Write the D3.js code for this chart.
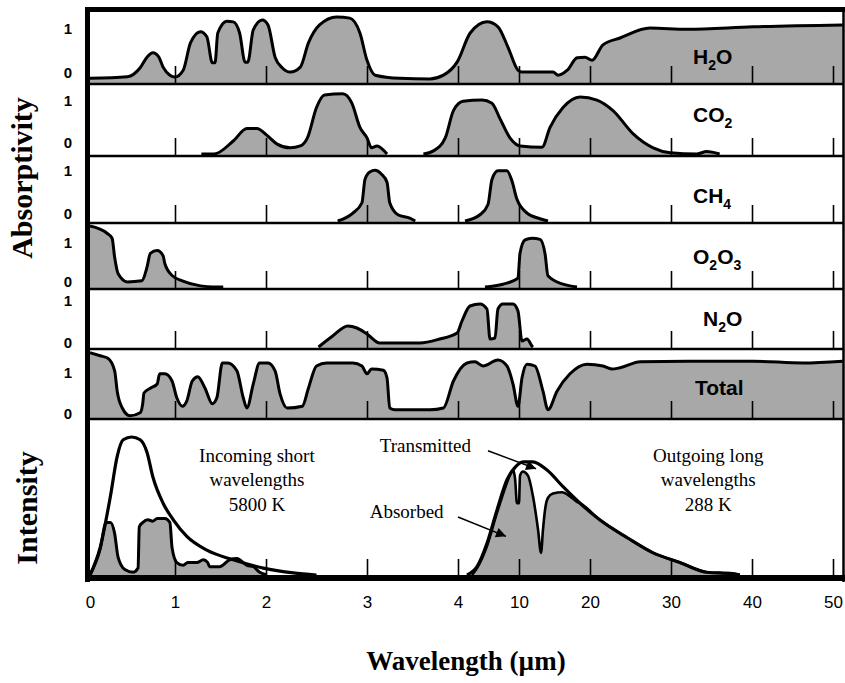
<!DOCTYPE html>
<html>
<head>
<meta charset="utf-8">
<script src="https://cdn.jsdelivr.net/npm/d3@7"></script>
<style>
  body { margin: 0; background: #fff; }
</style>
</head>
<body>
<div id="chart"></div>
<script>
// Wavelength ticks (µm) – the axis is stretched, not linear
const tickValues = [0, 1, 2, 3, 4, 10, 20, 30, 40, 50];
const tickPixels = [90, 175, 266, 367, 458, 519, 590, 671, 752, 833];

// Absorptivity curves: wavelength (µm) and absorptivity (0..1), null = gap
const h2oWave = [0, 0.44, 0.59, 0.67, 0.74, 0.81, 0.86, 0.94, 1.0, 1.09, 1.17, 1.28, 1.35, 1.41, 1.44, 1.47, 1.57, 1.64, 1.71, 1.77, 1.80, 1.86, 1.96, 2.02, 2.09, 2.16, 2.24, 2.34, 2.42, 2.53, 2.70, 2.83, 2.93, 3.0, 3.09, 3.36, 3.69, 3.84, 3.99, 5.2, 6.85, 7.93, 8.92, 9.9, 10.4, 14.8, 15.5, 16.8, 18.2, 19.3, 20.25, 21.6, 23.7, 27.4, 32, 40.1, 51.2];
const h2oAbs = [0.06, 0.085, 0.23, 0.40, 0.47, 0.40, 0.24, 0.11, 0.08, 0.19, 0.63, 0.81, 0.73, 0.31, 0.31, 0.79, 0.98, 0.97, 0.79, 0.32, 0.32, 0.84, 1.0, 0.92, 0.40, 0.23, 0.16, 0.24, 0.63, 0.92, 1.05, 1.03, 0.79, 0.35, 0.11, 0.06, 0.05, 0.11, 0.32, 0.79, 0.97, 0.89, 0.56, 0.19, 0.16, 0.16, 0.11, 0.19, 0.39, 0.40, 0.35, 0.60, 0.71, 0.87, 0.85, 0.89, 0.92];

const co2Wave = [1.29, 1.43, 1.64, 1.79, 1.90, 2.01, 2.11, 2.24, 2.34, 2.41, 2.50, 2.58, 2.76, 2.85, 2.93, 3.0, 3.05, 3.11, 3.22, 3.4, 3.62, 3.73, 3.86, 3.95, 4.49, 6.36, 7.34, 8.13, 9.11, 10.14, 13.24, 14.37, 16.2, 18.6, 20.86, 22.84, 25.3, 27.8, 29.9, 33.2, 34.4, 36.0];
const co2Abs = [0, 0, 0.21, 0.41, 0.41, 0.30, 0.16, 0.10, 0.13, 0.26, 0.75, 0.95, 0.97, 0.82, 0.43, 0.26, 0.10, 0.13, 0, null, 0, 0.05, 0.26, 0.70, 0.85, 0.87, 0.82, 0.57, 0.26, 0.13, 0.11, 0.43, 0.75, 0.92, 0.87, 0.70, 0.33, 0.10, 0.02, 0, 0.04, 0];

const ch4Wave = [2.71, 2.86, 2.95, 2.98, 3.03, 3.09, 3.16, 3.22, 3.25, 3.34, 3.47, 3.53, 4.0, 4.69, 6.16, 6.95, 7.34, 7.93, 8.82, 9.31, 9.80, 11.13, 12.96, 14.08];
const ch4Abs = [0, 0.14, 0.32, 0.73, 0.86, 0.89, 0.82, 0.68, 0.32, 0.11, 0.05, 0, null, 0, 0.11, 0.29, 0.73, 0.88, 0.88, 0.70, 0.38, 0.14, 0.04, 0];

const o3Wave = [0, 0.2, 0.26, 0.29, 0.33, 0.44, 0.61, 0.67, 0.71, 0.79, 0.86, 0.88, 0.97, 1.08, 1.28, 1.42, 1.53, 3.0, 6.65, 8.42, 9.9, 10.14, 10.85, 11.83, 12.96, 13.66, 14.08, 16.2, 18.17];
const o3Abs = [1.09, 0.96, 0.87, 0.53, 0.24, 0.09, 0.11, 0.35, 0.60, 0.65, 0.56, 0.42, 0.20, 0.11, 0.02, 0, 0, null, 0, 0.05, 0.16, 0.60, 0.84, 0.87, 0.85, 0.60, 0.20, 0.05, 0];

const n2oWave = [2.52, 2.66, 2.81, 2.90, 3.0, 3.14, 3.36, 3.58, 3.80, 3.99, 4.39, 5.18, 6.16, 6.85, 7.15, 7.64, 7.93, 8.42, 9.41, 9.90, 10.42, 11.13, 11.83, 11.97];
const n2oAbs = [0, 0.22, 0.42, 0.38, 0.26, 0.08, 0.08, 0.08, 0.16, 0.28, 0.52, 0.82, 0.86, 0.76, 0.16, 0.18, 0.76, 0.86, 0.86, 0.72, 0.12, 0.16, 0.02, 0];

const totalWave = [0, 0.12, 0.21, 0.29, 0.32, 0.38, 0.47, 0.59, 0.62, 0.635, 0.71, 0.79, 0.82, 0.88, 0.965, 1.02, 1.08, 1.13, 1.19, 1.25, 1.33, 1.41, 1.46, 1.52, 1.58, 1.68, 1.75, 1.79, 1.86, 1.93, 2.02, 2.09, 2.14, 2.21, 2.36, 2.42, 2.50, 2.60, 2.86, 2.95, 3.0, 3.05, 3.18, 3.22, 3.25, 3.31, 3.69, 3.84, 3.95, 4.88, 5.67, 6.46, 7.93, 8.82, 9.41, 9.90, 10.42, 11.13, 12.25, 13.38, 14.08, 15.35, 17.18, 19.58, 21.6, 22.7, 23.7, 26.2, 32.0, 40.1, 46.3, 51.2];
const totalAbs = [1.07, 1.02, 0.98, 0.77, 0.43, 0.15, 0.02, 0.07, 0.22, 0.40, 0.48, 0.55, 0.72, 0.72, 0.60, 0.32, 0.18, 0.27, 0.60, 0.67, 0.48, 0.22, 0.32, 0.90, 0.90, 0.77, 0.32, 0.15, 0.55, 0.90, 0.90, 0.77, 0.38, 0.15, 0.18, 0.48, 0.85, 0.90, 0.90, 0.85, 0.72, 0.80, 0.78, 0.65, 0.15, 0.12, 0.12, 0.15, 0.60, 0.90, 0.92, 0.85, 0.95, 0.85, 0.55, 0.18, 0.65, 0.88, 0.85, 0.43, 0.12, 0.43, 0.72, 0.88, 0.85, 0.80, 0.82, 0.92, 0.93, 0.93, 0.90, 0.93];

// Intensity (relative): incoming sunlight 5800 K and outgoing 288 K
const sunWave = [0, 0.12, 0.24, 0.32, 0.39, 0.49, 0.59, 0.67, 0.74, 0.86, 0.98, 1.13, 1.35, 1.64, 1.97, 2.27, 2.50];
const sunInt = [0, 0.20, 0.57, 0.86, 0.98, 1.0, 0.98, 0.89, 0.71, 0.52, 0.40, 0.28, 0.18, 0.11, 0.05, 0.015, 0];
const sunGroundWave = [0, 0.12, 0.19, 0.24, 0.29, 0.33, 0.41, 0.51, 0.565, 0.58, 0.62, 0.68, 0.74, 0.79, 0.88, 0.94, 0.965, 1.02, 1.09, 1.14, 1.24, 1.31, 1.36, 1.38, 1.49, 1.60, 1.68, 1.79, 1.86, 1.93, 2.01];
const sunGroundInt = [0, 0.19, 0.38, 0.38, 0.30, 0.13, 0.04, 0.02, 0.05, 0.35, 0.38, 0.40, 0.39, 0.41, 0.41, 0.38, 0.20, 0.09, 0.07, 0.09, 0.09, 0.11, 0.09, 0.06, 0.06, 0.11, 0.12, 0.07, 0.06, 0.02, 0];
const earthWave = [4.88, 5.87, 6.85, 7.83, 8.82, 9.61, 10.56, 11.97, 13.94, 16.2, 18.6, 21.2, 24.6, 27.8, 31.1, 34.4, 37.6, 38.5];
const earthInt = [0, 0.06, 0.23, 0.47, 0.69, 0.78, 0.82, 0.82, 0.76, 0.64, 0.52, 0.40, 0.27, 0.16, 0.09, 0.02, 0.01, 0];
const earthAbsWave = [5.38, 5.87, 6.85, 7.83, 8.82, 9.02, 9.41, 9.61, 9.80, 10.0, 10.14, 10.56, 11.27, 11.97, 12.68, 13.1, 13.38, 13.66, 14.08, 14.79, 16.06, 17.18, 18.17, 18.6, 21.2, 24.6, 27.8, 31.1, 34.4, 37.6, 38.5];
const earthAbsInt = [0, 0.05, 0.21, 0.45, 0.67, 0.71, 0.76, 0.70, 0.52, 0.52, 0.72, 0.75, 0.72, 0.57, 0.33, 0.16, 0.33, 0.47, 0.56, 0.59, 0.60, 0.57, 0.53, 0.52, 0.40, 0.27, 0.16, 0.09, 0.02, 0.01, 0];

const width = 845, height = 683;
const left = 90, right = 843;
const fillGray = "#a8a8a8";
const sans = "'Liberation Sans', Arial, Helvetica, sans-serif";
const serif = "'Liberation Serif', 'Times New Roman', Times, serif";

const svg = d3.select("#chart")
  .append("svg")
  .attr("width", width)
  .attr("height", height);

const x = d3.scaleLinear().domain(tickValues).range(tickPixels);

// gas panels; label pieces are [text, isSubscript]
const panels = [
  {name: [["H", 0], ["2", 1], ["O", 0]], wave: h2oWave, abs: h2oAbs, top: 12, bottom: 84, oneY: 28, zeroY: 72, lx: 693, ly: 64},
  {name: [["CO", 0], ["2", 1]], wave: co2Wave, abs: co2Abs, top: 84, bottom: 156, oneY: 100, zeroY: 142, lx: 693, ly: 122},
  {name: [["CH", 0], ["4", 1]], wave: ch4Wave, abs: ch4Abs, top: 156, bottom: 223, oneY: 170, zeroY: 213, lx: 693, ly: 203},
  {name: [["O", 0], ["2", 1], ["O", 0], ["3", 1]], wave: o3Wave, abs: o3Abs, top: 223, bottom: 289, oneY: 242, zeroY: 281, lx: 693, ly: 264},
  {name: [["N", 0], ["2", 1], ["O", 0]], wave: n2oWave, abs: n2oAbs, top: 289, bottom: 349, oneY: 300, zeroY: 342, lx: 703, ly: 326},
  {name: [["Total", 0]], wave: totalWave, abs: totalAbs, top: 349, bottom: 419, oneY: 372, zeroY: 413, lx: 695, ly: 395}
];

const tickAxis = d3.axisTop(x)
  .tickValues(tickValues.slice(1))
  .tickSize(18)
  .tickFormat("");

panels.forEach((p, i) => {
  const y = d3.scaleLinear().domain([0, 1]).range([p.bottom - 2, p.top + 8]);
  const pts = d3.zip(p.wave, p.abs);
  const g = svg.append("g");

  g.append("clipPath").attr("id", "clip" + i)
    .append("rect")
    .attr("x", left).attr("y", p.top)
    .attr("width", right - left).attr("height", p.bottom - p.top);

  const area = d3.area()
    .defined(d => d[1] != null)
    .x(d => x(d[0]))
    .y0(p.bottom)
    .y1(d => y(d[1]))
    .curve(d3.curveMonotoneX);
  const line = area.lineY1();

  const plot = g.append("g").attr("clip-path", `url(#clip${i})`);
  plot.append("path").attr("d", area(pts)).attr("fill", fillGray);
  plot.append("path").attr("d", line(pts))
    .attr("fill", "none").attr("stroke", "#000")
    .attr("stroke-width", 3).attr("stroke-linejoin", "round");

  g.append("g")
    .attr("transform", `translate(0,${p.bottom})`)
    .call(tickAxis)
    .call(s => s.select(".domain").remove())
    .call(s => s.selectAll("line").attr("stroke", "#000").attr("stroke-width", 1.6));

  // 1 / 0 labels
  [["1", p.oneY], ["0", p.zeroY]].forEach(([t, yy]) => {
    g.append("text")
      .attr("x", 68).attr("y", yy)
      .attr("text-anchor", "middle")
      .attr("dominant-baseline", "central")
      .style("font-family", sans).style("font-weight", "bold").style("font-size", "15px")
      .text(t);
  });

  // gas name with subscripts
  const lab = g.append("text")
    .attr("x", p.lx).attr("y", p.ly)
    .style("font-family", sans).style("font-weight", "bold").style("font-size", "21px");
  let down = false;
  p.name.forEach(([t, sub]) => {
    const ts = lab.append("tspan").text(t);
    if (sub) { ts.style("font-size", "14px").attr("dy", down ? 0 : 6); down = true; }
    else { if (down) ts.attr("dy", -6); down = false; }
  });
});

// intensity panel
const iTop = 419, iBottom = 575;
const yi = d3.scaleLinear().domain([0, 1]).range([iBottom, 437]);

const iArea = d3.area()
  .x(d => x(d[0]))
  .y0(iBottom)
  .y1(d => yi(d[1]))
  .curve(d3.curveMonotoneX);
const iLine = iArea.lineY1();

const ig = svg.append("g");
ig.append("path").attr("d", iArea(d3.zip(sunGroundWave, sunGroundInt))).attr("fill", fillGray);
ig.append("path").attr("d", iLine(d3.zip(sunGroundWave, sunGroundInt)))
  .attr("fill", "none").attr("stroke", "#000").attr("stroke-width", 3);
ig.append("path").attr("d", iLine(d3.zip(sunWave, sunInt)))
  .attr("fill", "none").attr("stroke", "#000").attr("stroke-width", 3.2);

ig.append("path").attr("d", iArea(d3.zip(earthAbsWave, earthAbsInt))).attr("fill", fillGray);
ig.append("path").attr("d", iLine(d3.zip(earthAbsWave, earthAbsInt)))
  .attr("fill", "none").attr("stroke", "#000").attr("stroke-width", 2.6);
ig.append("path").attr("d", iLine(d3.zip(earthWave, earthInt)))
  .attr("fill", "none").attr("stroke", "#000").attr("stroke-width", 3.2);

ig.append("g")
  .attr("transform", `translate(0,${iBottom + 1})`)
  .call(d3.axisTop(x).tickValues(tickValues.slice(1)).tickSize(17).tickFormat(""))
  .call(s => s.select(".domain").remove())
  .call(s => s.selectAll("line").attr("stroke", "#000").attr("stroke-width", 1.6));

// annotations
const notes = [
  {lines: ["Incoming short", "wavelengths", "5800 K"], w: 1.9, v: 0.82, anchor: "middle"},
  {lines: ["Outgoing long", "wavelengths", "288 K"], w: 34.6, v: 0.82, anchor: "middle"},
  {lines: ["Transmitted"], w: 3.14, v: 0.89, anchor: "start"},
  {lines: ["Absorbed"], w: 3.03, v: 0.41, anchor: "start"}
];
notes.forEach(n => {
  n.lines.forEach((t, k) => {
    ig.append("text")
      .attr("x", x(n.w)).attr("y", yi(n.v) + k * 24.5)
      .attr("text-anchor", n.anchor)
      .style("font-family", serif).style("font-size", "19px")
      .text(t);
  });
});

svg.append("defs").append("marker")
  .attr("id", "arrow").attr("viewBox", "0 0 10 10")
  .attr("refX", 10).attr("refY", 5)
  .attr("markerWidth", 14).attr("markerHeight", 10)
  .attr("markerUnits", "userSpaceOnUse")
  .attr("orient", "auto")
  .append("path").attr("d", "M0,0L10,5L0,10Z").attr("fill", "#000");

const arrows = [
  {from: [6.95, 0.90], to: [12.4, 0.77]},
  {from: [4.0, 0.42], to: [8.72, 0.28]}
];
arrows.forEach(a => {
  ig.append("line")
    .attr("x1", x(a.from[0])).attr("y1", yi(a.from[1]))
    .attr("x2", x(a.to[0])).attr("y2", yi(a.to[1]))
    .attr("stroke", "#000").attr("stroke-width", 1.5)
    .attr("marker-end", "url(#arrow)");
});

// panel separators
svg.append("g").selectAll("line")
  .data(panels.slice(1).map(p => p.top).concat([iTop]))
  .enter().append("line")
  .attr("x1", left).attr("x2", right)
  .attr("y1", d => d).attr("y2", d => d)
  .attr("stroke", "#000").attr("stroke-width", 2.5);

// frame
svg.append("line").attr("x1", 87.5).attr("x2", 87.5).attr("y1", 7).attr("y2", 582)
  .attr("stroke", "#000").attr("stroke-width", 5);
svg.append("line").attr("x1", 85).attr("x2", 845).attr("y1", 9.5).attr("y2", 9.5)
  .attr("stroke", "#000").attr("stroke-width", 5);
svg.append("line").attr("x1", 843.5).attr("x2", 843.5).attr("y1", 7).attr("y2", 582)
  .attr("stroke", "#000").attr("stroke-width", 2.5);
svg.append("line").attr("x1", 85).attr("x2", 845).attr("y1", 578).attr("y2", 578)
  .attr("stroke", "#000").attr("stroke-width", 6);

// wavelength labels
svg.append("g")
  .attr("transform", "translate(0,596)")
  .call(d3.axisBottom(x).tickValues(tickValues).tickSize(0).tickPadding(0).tickFormat(d3.format("d")))
  .call(s => s.select(".domain").remove())
  .call(s => s.selectAll("text")
    .style("font-family", sans).style("font-size", "17px").attr("fill", "#000"));

// axis titles
svg.append("text")
  .attr("transform", "translate(32,178) rotate(-90)")
  .attr("text-anchor", "middle")
  .style("font-family", serif).style("font-weight", "bold").style("font-size", "30px")
  .text("Absorptivity");
svg.append("text")
  .attr("transform", "translate(37,508) rotate(-90)")
  .attr("text-anchor", "middle")
  .style("font-family", serif).style("font-weight", "bold").style("font-size", "30px")
  .text("Intensity");
svg.append("text")
  .attr("x", 466).attr("y", 670)
  .attr("text-anchor", "middle")
  .style("font-family", serif).style("font-weight", "bold").style("font-size", "27px")
  .text("Wavelength (µm)");
</script>
</body>
</html>
